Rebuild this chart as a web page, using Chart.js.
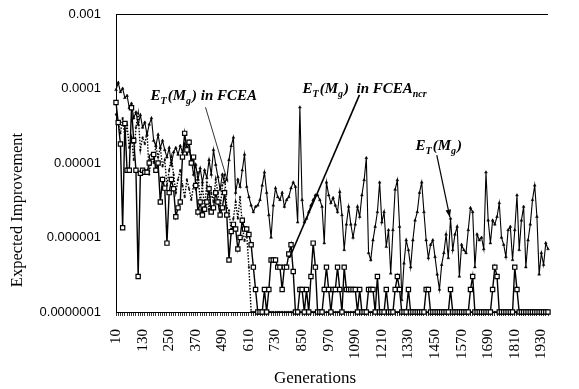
<!DOCTYPE html>
<html>
<head>
<meta charset="utf-8">
<script src="https://cdn.jsdelivr.net/npm/chart.js@4.4.1/dist/chart.umd.min.js"></script>
<style>
html, body { margin: 0; padding: 0; background: #fff; }
#wrap { width: 579px; height: 389px; }
</style>
</head>
<body>
<div id="wrap"><canvas id="chart" width="579" height="389"></canvas></div>
<script>
// generations 10 .. 1960, one point every 10
var generations = [];
for (var g = 10; g <= 1960; g += 10) generations.push(g);

// E_T(M_g)  (solid line, small markers)
var etMg = [
  9.6e-5, 1.2e-4, 9e-5, 1e-4, 7.5e-5, 8e-5, 5.5e-5, 6.3e-5, 4e-5, 4.8e-5,
  3.3e-5, 4.4e-5, 3e-5, 3.5e-5, 2.4e-5, 3.3e-5, 4e-5, 2e-5, 1.7e-5, 2.4e-5,
  1.6e-5, 2e-5, 1.5e-5, 1.2e-5, 1.6e-5, 9.5e-6, 1.4e-5, 1.6e-5, 1.3e-5, 1.7e-5,
  1.4e-5, 1.8e-5, 1.3e-5, 1.5e-5, 1.1e-5, 7e-6, 9.5e-6, 6e-6, 8.5e-6, 5.5e-6,
  8e-6, 6.3e-6, 1.1e-5, 7e-6, 1.5e-5, 9.5e-6, 6.5e-6, 4.4e-6, 7e-6, 5.5e-6,
  6e-6, 1.1e-5, 1.7e-5, 2.2e-5, 4e-6, 6e-6, 4.8e-6, 8e-6, 1.3e-5, 4.8e-6,
  3.5e-6, 2.7e-6, 2.2e-6, 2.6e-6, 2.7e-6, 3.2e-6, 5e-6, 7.5e-6, 4e-6, 2e-6,
  1e-6, 2.7e-6, 4.6e-6, 3.5e-6, 3.2e-6, 4e-6, 2.6e-6, 3.2e-6, 3.5e-6, 4.6e-6,
  5.5e-6, 4.8e-6, 1.6e-6, 5.6e-5, 3.2e-6, 1.6e-6, 1.8e-6, 2.2e-6, 2.7e-6, 3.2e-6,
  3.7e-6, 3.7e-6, 3.2e-6, 2.6e-6, 8.4e-7, 5.5e-6, 3.7e-6, 2.9e-6, 3.4e-6, 2.7e-6,
  2.2e-6, 4.1e-6, 2e-6, 6.8e-7, 1.5e-6, 2.6e-6, 1.5e-6, 1e-6, 1.5e-6, 2.6e-6,
  1.9e-6, 3.7e-6, 5.9e-6, 1.17e-5, 6.2e-7, 5e-7, 9.2e-7, 1.4e-6, 2.2e-6, 5.5e-6,
  1.6e-6, 2.2e-6, 7.5e-7, 1.26e-6, 3.3e-7, 1.26e-6, 4.4e-6, 5.9e-6, 1.4e-6, 1.45e-7,
  4.5e-7, 9.2e-7, 6.8e-7, 4e-7, 9.2e-7, 1.7e-6, 2.2e-6, 4e-6, 5.5e-6, 2.2e-6,
  9.2e-7, 5.3e-7, 8e-7, 9.2e-7, 5.5e-7, 3.2e-7, 2e-7, 4.3e-7, 6.2e-7, 1.1e-6,
  5.3e-7, 1.8e-6, 6.8e-7, 1.1e-6, 1.4e-6, 3e-7, 8e-7, 6.8e-7, 6.2e-7, 1.26e-6,
  2.5e-6, 2.2e-6, 4e-7, 1.1e-6, 9.2e-7, 1e-6, 7e-7, 7.5e-6, 1.7e-6, 8.4e-7,
  1.7e-6, 1.5e-6, 1.9e-6, 2.9e-6, 1e-6, 8e-7, 5.5e-7, 1.26e-6, 1.4e-6, 5e-7,
  1.26e-6, 3.7e-6, 6.8e-7, 1.7e-6, 2.6e-6, 4e-7, 9.2e-7, 1.5e-6, 3.2e-6, 5e-6,
  1.9e-6, 3.2e-7, 6.2e-7, 4.3e-7, 8.4e-7, 7e-7
];

// E_T(M_g) in FCEA  (dotted line)
var etFcea = [
  4.5e-5, 3.5e-5, 2.5e-5, 4e-5, 2.2e-5, 3.2e-5, 1.6e-5, 2.2e-5, 1.1e-5, 3e-5,
  4.6e-5, 1.5e-5, 2.2e-5, 1.8e-5, 2.6e-5, 7e-6, 1.3e-5, 1e-5, 1.7e-5, 1.2e-5,
  1.6e-5, 9e-6, 1.1e-5, 5e-6, 8e-6, 1.2e-5, 7e-6, 4e-6, 6e-6, 8e-6,
  5e-6, 3.5e-6, 6e-6, 4.5e-6, 3.2e-6, 5e-6, 4.4e-6, 7.5e-6, 3e-6, 5e-6,
  2.4e-6, 5.5e-6, 2.4e-6, 4e-6, 3e-6, 6e-6, 4e-6, 2.3e-6, 5e-6, 7e-6,
  2.5e-6, 2.3e-6, 1.2e-6, 1.8e-6, 3e-6, 1.8e-6, 3.5e-6, 1.5e-6, 9e-7, 1.1e-6,
  4e-7, 1e-7, 1e-7, 1e-7, 1e-7, 1e-7, 1e-7, 1e-7, 1e-7, 1e-7,
  1e-7, 1e-7, 1e-7, 1e-7, 1e-7, 1e-7, 1e-7, 1e-7, 1e-7, 1e-7,
  1e-7, 1e-7, 1e-7, 1e-7, 1e-7, 1e-7, 1e-7, 1e-7, 1e-7, 1e-7,
  1e-7, 1e-7, 1e-7, 1e-7, 1e-7, 1e-7, 1e-7, 1e-7, 1e-7, 1e-7,
  1e-7, 1e-7, 1e-7, 1e-7, 1e-7, 1e-7, 1e-7, 1e-7, 1e-7, 1e-7,
  1e-7, 1e-7, 1e-7, 1e-7, 1e-7, 1e-7, 1e-7, 1e-7, 1e-7, 1e-7,
  1e-7, 1e-7, 1e-7, 1e-7, 1e-7, 1e-7, 1e-7, 1e-7, 1e-7, 1e-7,
  1e-7, 1e-7, 1e-7, 1e-7, 1e-7, 1e-7, 1e-7, 1e-7, 1e-7, 1e-7,
  1e-7, 1e-7, 1e-7, 1e-7, 1e-7, 1e-7, 1e-7, 1e-7, 1e-7, 1e-7,
  1e-7, 1e-7, 1e-7, 1e-7, 1e-7, 1e-7, 1e-7, 1e-7, 1e-7, 1e-7,
  1e-7, 1e-7, 1e-7, 1e-7, 1e-7, 1e-7, 1e-7, 1e-7, 1e-7, 1e-7,
  1e-7, 1e-7, 1e-7, 1e-7, 1e-7, 1e-7, 1e-7, 1e-7, 1e-7, 1e-7,
  1e-7, 1e-7, 1e-7, 1e-7, 1e-7, 1e-7, 1e-7, 1e-7, 1e-7, 1e-7,
  1e-7, 1e-7, 1e-7, 1e-7, 1e-7, 1e-7
];

// E_T(M_g) in FCEA_ncr  (solid line, open squares)
var etNcr = [
  6.5e-5, 3.5e-5, 1.8e-5, 1.35e-6, 3.4e-5, 8e-6, 8e-6, 5.5e-5, 2e-5, 8e-6,
  3e-7, 7.3e-6, 8e-6, 7.5e-6, 7.5e-6, 1e-5, 1.2e-5, 1.3e-5, 8e-6, 1e-5,
  3e-6, 6e-6, 4.6e-6, 8.4e-7, 4e-6, 6e-6, 4.5e-6, 1.9e-6, 2.5e-6, 3e-6,
  1.2e-5, 2.5e-5, 1.5e-5, 1.9e-5, 1e-5, 1.2e-5, 5e-6, 2.2e-6, 3e-6, 2e-6,
  2.4e-6, 3e-6, 4.5e-6, 2.2e-6, 2.5e-6, 4e-6, 3e-6, 2e-6, 2.5e-6, 4e-6,
  2e-6, 5e-7, 1.2e-6, 1.5e-6, 1.3e-6, 7e-7, 1e-6, 1.7e-6, 1.3e-6, 1.3e-6,
  1.1e-6, 8e-7, 4e-7, 2e-7, 1e-7, 1e-7, 1e-7, 2e-7, 1e-7, 2e-7,
  5e-7, 5e-7, 5e-7, 4e-7, 4e-7, 2e-7, 4e-7, 4e-7, 6e-7, 8e-7,
  3.5e-7, 1e-7, 1e-7, 2e-7, 2e-7, 1e-7, 2e-7, 1e-7, 3e-7, 8.4e-7,
  4e-7, 1e-7, 1e-7, 1e-7, 2e-7, 4e-7, 2e-7, 1e-7, 2e-7, 2e-7,
  4e-7, 2e-7, 1e-7, 4e-7, 2e-7, 2e-7, 2e-7, 2e-7, 2e-7, 1e-7,
  2e-7, 1e-7, 1e-7, 1e-7, 2e-7, 2e-7, 2e-7, 1e-7, 3e-7, 1e-7,
  1e-7, 1e-7, 2e-7, 1e-7, 1e-7, 1e-7, 2e-7, 3e-7, 2e-7, 1e-7,
  1e-7, 1e-7, 2e-7, 1e-7, 1e-7, 1e-7, 1e-7, 1e-7, 1e-7, 1e-7,
  2e-7, 2e-7, 1e-7, 1e-7, 1e-7, 1e-7, 1e-7, 1e-7, 1e-7, 1e-7,
  1e-7, 2e-7, 1e-7, 1e-7, 1e-7, 1e-7, 1e-7, 1e-7, 1e-7, 1e-7,
  2e-7, 3e-7, 1e-7, 1e-7, 1e-7, 1e-7, 1e-7, 1e-7, 1e-7, 1e-7,
  2e-7, 4e-7, 3e-7, 1e-7, 1e-7, 1e-7, 1e-7, 1e-7, 1e-7, 1e-7,
  4e-7, 2e-7, 1e-7, 1e-7, 1e-7, 1e-7, 1e-7, 1e-7, 1e-7, 1e-7,
  1e-7, 1e-7, 1e-7, 1e-7, 1e-7, 1e-7
];

var yTickValues = [0.0000001, 0.000001, 0.00001, 0.0001, 0.001];
var yTickLabels = ["0.0000001", "0.000001", "0.00001", "0.0001", "0.001"];
var labelEvery = 12; // 10, 130, 250 ... 1930

// callouts, anchored in data units (generation, value)
var notes = [
  { gen: 166, val: 7.1e-5, runs: [["E"], ["T", 1], ["(M"], ["g", 1], [") in FCEA"]] },
  { gen: 852, val: 8.7e-5, runs: [["E"], ["T", 1], ["(M"], ["g", 1], [")  in FCEA"], ["ncr", 1]] },
  { gen: 1362, val: 1.5e-5, runs: [["E"], ["T", 1], ["(M"], ["g", 1], [")"]] }
];
var leaders = [
  { from: [414, 5.6e-5], to: [515, 5.5e-6], width: 0.8, arrow: false },
  { from: [1109, 8.2e-5], to: [793, 5.3e-7], width: 1.6, arrow: false },
  { from: [1458, 1.28e-5], to: [1517, 1.87e-6], width: 1.2, arrow: true }
];

var SERIF = "'Liberation Serif', 'DejaVu Serif', serif";
var SANS = "'Liberation Sans', Arial, sans-serif";

function px(chart, gen, val) {
  return [chart.scales.x.getPixelForValue((gen - 10) / 10), chart.scales.y.getPixelForValue(val)];
}

var extras = {
  id: 'extras',
  afterDraw: function (chart) {
    var ctx = chart.ctx, a = chart.chartArea;
    ctx.save();
    // plot frame top line
    ctx.strokeStyle = '#000';
    ctx.lineWidth = 1;
    ctx.beginPath();
    ctx.moveTo(a.left, a.top + 0.5);
    ctx.lineTo(a.right, a.top + 0.5);
    ctx.stroke();

    // leader lines
    leaders.forEach(function (l) {
      var p0 = px(chart, l.from[0], l.from[1]);
      var p1 = px(chart, l.to[0], l.to[1]);
      ctx.lineWidth = l.width;
      ctx.beginPath();
      ctx.moveTo(p0[0], p0[1]);
      ctx.lineTo(p1[0], p1[1]);
      ctx.stroke();
      if (l.arrow) {
        var ang = Math.atan2(p1[1] - p0[1], p1[0] - p0[0]);
        ctx.beginPath();
        ctx.moveTo(p1[0], p1[1]);
        ctx.lineTo(p1[0] - 8 * Math.cos(ang - 0.35), p1[1] - 8 * Math.sin(ang - 0.35));
        ctx.lineTo(p1[0] - 8 * Math.cos(ang + 0.35), p1[1] - 8 * Math.sin(ang + 0.35));
        ctx.closePath();
        ctx.fillStyle = '#000';
        ctx.fill();
      }
    });

    // callout texts
    ctx.fillStyle = '#000';
    ctx.textBaseline = 'alphabetic';
    ctx.textAlign = 'left';
    notes.forEach(function (n) {
      var p = px(chart, n.gen, n.val);
      var x = p[0];
      n.runs.forEach(function (r) {
        ctx.font = r[1] ? 'italic bold 10px ' + SERIF : 'italic bold 15px ' + SERIF;
        ctx.fillText(r[0], x, p[1] + (r[1] ? 4 : 0));
        x += ctx.measureText(r[0]).width + (r[1] ? 1 : 0);
      });
    });

    // axis titles
    ctx.font = '17px ' + SERIF;
    ctx.textAlign = 'center';
    ctx.fillText('Generations', a.left + 199, 383);
    ctx.translate(18, 210);
    ctx.rotate(-Math.PI / 2);
    ctx.font = '16.5px ' + SERIF;
    ctx.textBaseline = 'middle';
    ctx.fillText('Expected Improvement', 0, 0);
    ctx.restore();
  }
};

new Chart(document.getElementById('chart'), {
  type: 'line',
  data: {
    labels: generations,
    datasets: [
      {
        label: 'E_T(M_g) in FCEA_ncr',
        data: etNcr,
        borderColor: '#000',
        borderWidth: 1.4,
        pointStyle: 'rect',
        pointRadius: 3,
        pointBorderWidth: 1.2,
        pointBackgroundColor: '#fff',
        pointBorderColor: '#000',
        clip: false
      },
      {
        label: 'E_T(M_g)',
        data: etMg,
        borderColor: '#000',
        borderWidth: 1.1,
        pointStyle: 'triangle',
        pointRadius: 1.6,
        pointBackgroundColor: '#000',
        pointBorderColor: '#000',
        pointBorderWidth: 0.5,
        clip: false
      },
      {
        label: 'E_T(M_g) in FCEA',
        data: etFcea,
        borderColor: '#000',
        borderWidth: 1.4,
        borderDash: [1.5, 1.5],
        pointStyle: 'rect',
        pointRadius: 1,
        pointBackgroundColor: '#000',
        pointBorderColor: '#000',
        pointBorderWidth: 0.5,
        clip: false
      }
    ]
  },
  options: {
    responsive: false,
    animation: false,
    devicePixelRatio: 1,
    layout: { padding: { top: 14, right: 0, left: 0, bottom: 0 } },
    plugins: {
      legend: { display: false },
      tooltip: { enabled: false }
    },
    scales: {
      x: {
        type: 'category',
        offset: false,
        grid: { display: true, drawOnChartArea: false, drawTicks: true, tickLength: 4, color: '#000', lineWidth: 0.8 },
        border: { display: true, color: '#000', width: 1 },
        ticks: {
          autoSkip: false,
          maxRotation: 90,
          minRotation: 90,
          padding: 13,
          color: '#000',
          font: { family: SERIF, size: 15 },
          callback: function (value, index) {
            return index % labelEvery === 0 ? String(generations[index]) : '';
          }
        },
        afterFit: function (s) { s.height = 77; }
      },
      y: {
        type: 'logarithmic',
        min: 1e-7,
        max: 1e-3,
        // grid hidden; tickLength only sets the gap between labels and axis
        grid: { display: false, drawTicks: true, tickLength: 15 },
        border: { display: true, color: '#000', width: 1 },
        afterBuildTicks: function (s) {
          s.ticks = yTickValues.map(function (v) { return { value: v }; });
        },
        ticks: {
          padding: 0,
          color: '#000',
          font: { family: SANS, size: 13 },
          callback: function (value, index) { return yTickLabels[index]; }
        },
        afterFit: function (s) { s.width = 116; }
      }
    }
  },
  plugins: [extras]
});
</script>
</body>
</html>
